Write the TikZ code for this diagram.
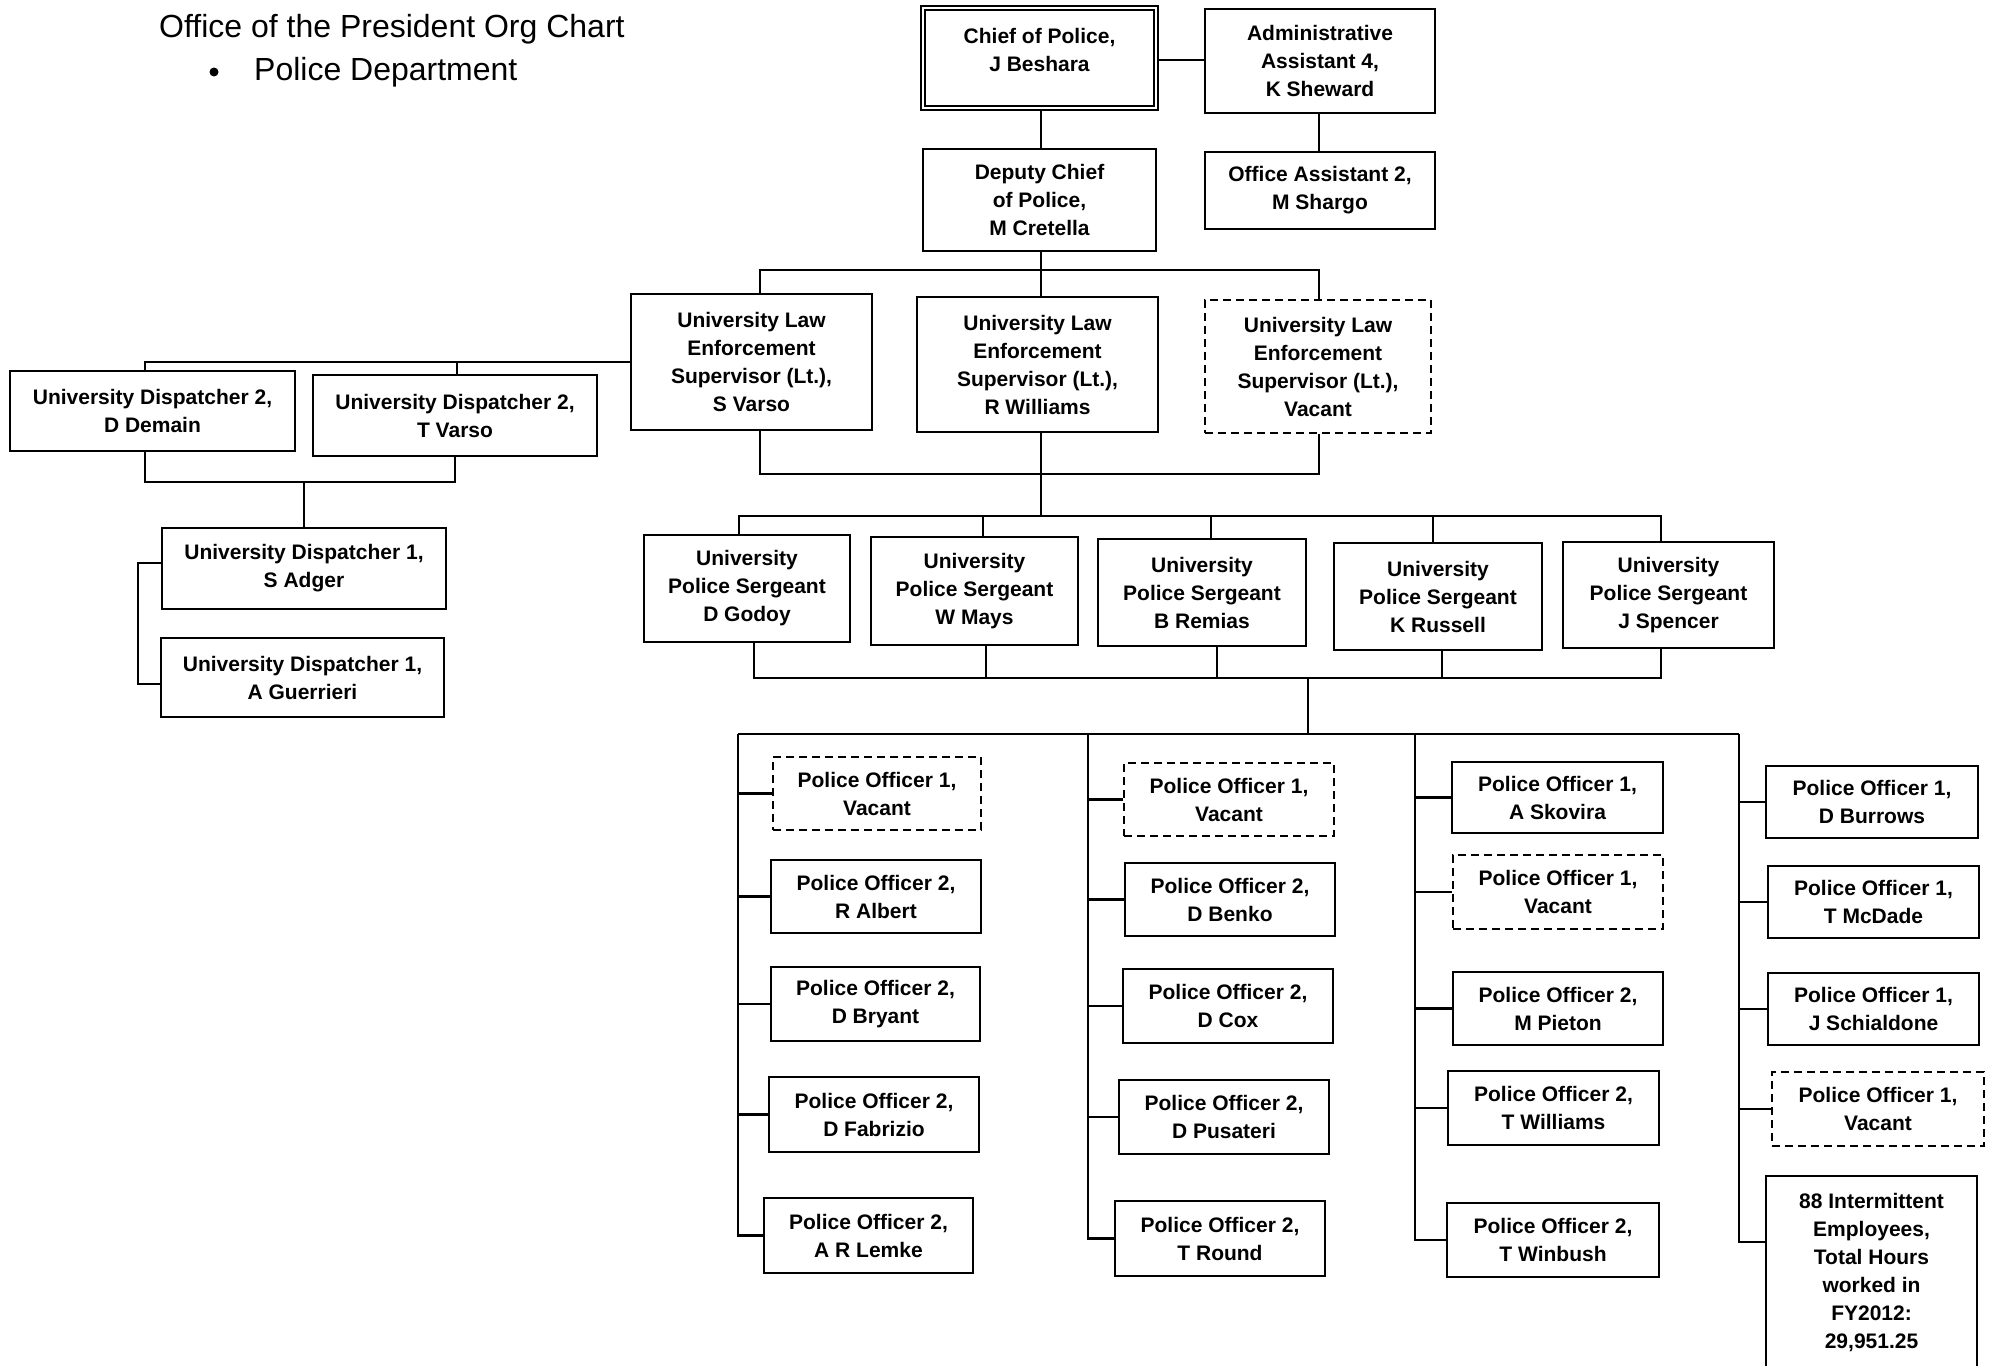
\documentclass[tikz,border=0pt]{standalone}
\usepackage{fontspec}
\setmainfont{Liberation Sans}
\newcommand\orgfont{\bfseries\fontsize{21}{28}\selectfont}
\begin{document}
\begin{tikzpicture}[x=1pt,y=-1pt,
  box/.style={draw, line width=2.5pt, align=center, inner sep=0pt, font=\orgfont},
  vac/.style={box, line width=2.3pt, dash pattern=on 8pt off 5pt},
  conn/.style={line width=2.2pt},
  title/.style={font=\fontsize{32}{38}\selectfont, anchor=base west, inner sep=0pt}]
\useasboundingbox (0,0) rectangle (1991,1365);
\fill[white] (0,0) rectangle (1991,1365);
\clip (0,0) rectangle (1991,1365);

% title
\node[title] (t1) at (159,37) {Office of the President Org Chart};
\fill (214,72) circle[radius=4.5pt];
\node[title] (t2) at (254,80) {Police Department};

% top
\node[draw, line width=1.5pt, double, double distance=2.4pt, minimum width=233, minimum height=100] (chief) at (1039.5,58) {};
\node[font=\orgfont, align=center, inner sep=0pt] (chieft) at (1039.5,49.5) {Chief of Police,\\J Beshara};
\node[box, minimum width=230, minimum height=104] (admin) at (1320,61) {Administrative\\Assistant 4,\\K Sheward};
\node[box, minimum width=233, minimum height=102] (deputy) at (1039.5,200) {Deputy Chief\\of Police,\\M Cretella};
\node[box, minimum width=230, minimum height=77] (oa) at (1320,190.5) {Office Assistant 2,\\M Shargo};

% lieutenants
\node[box, minimum width=241, minimum height=136] (ltsv) at (751.5,362) {University Law\\Enforcement\\Supervisor (Lt.),\\S Varso};
\node[box, minimum width=241, minimum height=135] (ltrw) at (1037.5,364.5) {University Law\\Enforcement\\Supervisor (Lt.),\\R Williams};
\node[vac, minimum width=226, minimum height=133] (ltv) at (1318,366.5) {University Law\\Enforcement\\Supervisor (Lt.),\\Vacant};

% dispatchers
\node[box, minimum width=285, minimum height=80] (dd) at (152.5,411) {University Dispatcher 2,\\D Demain};
\node[box, minimum width=284, minimum height=81] (tv) at (455,415.5) {University Dispatcher 2,\\T Varso};
\node[box, minimum width=284, minimum height=81] (sa) at (304,568.5) {University Dispatcher 1,\\S Adger};
\node[box, minimum width=283, minimum height=79] (ag) at (302.5,677.5) {University Dispatcher 1,\\A Guerrieri};

% sergeants
\node[box, minimum width=206, minimum height=107] (godoy) at (747,588.5) {University\\Police Sergeant\\D Godoy};
\node[box, minimum width=207, minimum height=108] (mays) at (974.5,591) {University\\Police Sergeant\\W Mays};
\node[box, minimum width=208, minimum height=107] (remias) at (1202,592.5) {University\\Police Sergeant\\B Remias};
\node[box, minimum width=208, minimum height=107] (russell) at (1438,596.5) {University\\Police Sergeant\\K Russell};
\node[box, minimum width=211, minimum height=106] (spencer) at (1668.5,595) {University\\Police Sergeant\\J Spencer};

% officers column 1
\node[vac, minimum width=208, minimum height=73] (v1) at (877,793.5) {Police Officer 1,\\Vacant};
\node[box, minimum width=210, minimum height=73] (albert) at (876,896.5) {Police Officer 2,\\R Albert};
\node[box, minimum width=209, minimum height=74] (bryant) at (875.5,1004) {Police Officer 2,\\D Bryant};
\node[box, minimum width=210, minimum height=75] (fabrizio) at (874,1114.5) {Police Officer 2,\\D Fabrizio};
\node[box, minimum width=209, minimum height=75] (lemke) at (868.5,1235.5) {Police Officer 2,\\A R Lemke};
% column 2
\node[vac, minimum width=210, minimum height=73] (v2) at (1229,799.5) {Police Officer 1,\\Vacant};
\node[box, minimum width=210, minimum height=73] (benko) at (1230,899.5) {Police Officer 2,\\D Benko};
\node[box, minimum width=210, minimum height=74] (cox) at (1228,1006) {Police Officer 2,\\D Cox};
\node[box, minimum width=210, minimum height=74] (pusateri) at (1224,1117) {Police Officer 2,\\D Pusateri};
\node[box, minimum width=210, minimum height=75] (round) at (1220,1238.5) {Police Officer 2,\\T Round};
% column 3
\node[box, minimum width=211, minimum height=71] (skovira) at (1557.5,797.5) {Police Officer 1,\\A Skovira};
\node[vac, minimum width=210, minimum height=74] (v3) at (1558,892) {Police Officer 1,\\Vacant};
\node[box, minimum width=210, minimum height=73] (pieton) at (1558,1008.5) {Police Officer 2,\\M Pieton};
\node[box, minimum width=211, minimum height=74] (twill) at (1553.5,1108) {Police Officer 2,\\T Williams};
\node[box, minimum width=212, minimum height=74] (winbush) at (1553,1240) {Police Officer 2,\\T Winbush};
% column 4
\node[box, minimum width=212, minimum height=72] (burrows) at (1872,802) {Police Officer 1,\\D Burrows};
\node[box, minimum width=211, minimum height=72] (mcdade) at (1873.5,902) {Police Officer 1,\\T McDade};
\node[box, minimum width=211, minimum height=72] (schial) at (1873.5,1009) {Police Officer 1,\\J Schialdone};
\node[vac, minimum width=212, minimum height=74] (v4) at (1878,1109) {Police Officer 1,\\Vacant};
\node[box, minimum width=211, minimum height=192] (intm) at (1871.5,1272) {88 Intermittent\\Employees,\\Total Hours\\worked in\\FY2012:\\29,951.25};

% connectors: top
\draw[conn] (chief.east |- 0,60) -- (admin.west |- 0,60);
\draw[conn] (chief.south -| 1041,0) -- (deputy.north -| 1041,0);
\draw[conn] (admin.south -| 1319,0) -- (oa.north -| 1319,0);
% deputy to lieutenants
\draw[conn] (deputy.south -| 1041,0) -- (ltrw.north -| 1041,0);
\draw[conn] (ltsv.north -| 760,0) -- (760,270) -- (1319,270) -- (ltv.north -| 1319,0);
% lieutenants to sergeants
\draw[conn] (ltsv.south -| 760,0) -- (760,474) -- (1319,474) -- (ltv.south -| 1319,0);
\draw[conn] (ltrw.south -| 1041,0) -- (1041,516);
\draw[conn] (godoy.north -| 739,0) -- (739,516) -- (1661,516) -- (spencer.north -| 1661,0);
\draw[conn] (983,516) -- (mays.north -| 983,0);
\draw[conn] (1211,516) -- (remias.north -| 1211,0);
\draw[conn] (1433,516) -- (russell.north -| 1433,0);
% sergeants to officers
\draw[conn] (godoy.south -| 754,0) -- (754,678) -- (1661,678) -- (spencer.south -| 1661,0);
\draw[conn] (mays.south -| 986,0) -- (986,678);
\draw[conn] (remias.south -| 1217,0) -- (1217,678);
\draw[conn] (russell.south -| 1442,0) -- (1442,678);
\draw[conn] (1308,678) -- (1308,734);
\draw[conn] (738,734) -- (1739,734);
\draw[conn] (738,734) |- (lemke.west);
\foreach \n in {v1,albert,bryant,fabrizio} \draw[conn] (\n.west) -- (\n.west -| 738,0);
\draw[conn] (1088,734) |- (round.west);
\foreach \n in {v2,benko,cox,pusateri} \draw[conn] (\n.west) -- (\n.west -| 1088,0);
\draw[conn] (1415,734) |- (winbush.west);
\foreach \n in {skovira,v3,pieton,twill} \draw[conn] (\n.west) -- (\n.west -| 1415,0);
\draw[conn] (1739,734) |- (intm.west |- 0,1242);
\foreach \n in {burrows,mcdade,schial,v4} \draw[conn] (\n.west) -- (\n.west -| 1739,0);
% dispatchers
\draw[conn] (ltsv.west) -- (145,362) -- (dd.north -| 145,0);
\draw[conn] (457,362) -- (tv.north -| 457,0);
\draw[conn] (dd.south -| 145,0) -- (145,482) -- (455,482) -- (tv.south -| 455,0);
\draw[conn] (304,482) -- (sa.north -| 304,0);
\draw[conn] (sa.west |- 0,563) -- (138,563) -- (138,684) -- (ag.west |- 0,684);
\end{tikzpicture}
\end{document}
